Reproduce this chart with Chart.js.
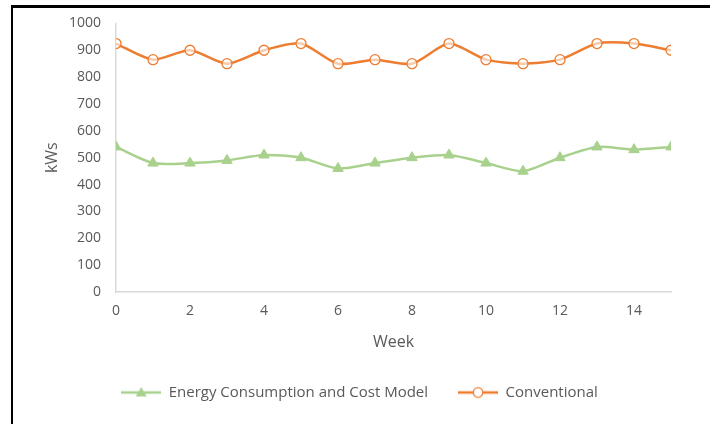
<!DOCTYPE html>
<html>
<head>
<meta charset="utf-8">
<script src="https://cdn.jsdelivr.net/npm/chart.js@4"></script>
<style>
  html, body { margin: 0; padding: 0; background: #fff; }
  #wrap { position: relative; width: 710px; height: 424px; overflow: hidden; }
  #frame { position: absolute; left: 11px; top: 5px; width: 800px; height: 500px;
           border-top: 3px solid #000; border-left: 2px solid #000; pointer-events: none; }
  canvas { position: absolute; left: 0; top: 0; }
</style>
</head>
<body>
<div id="wrap">
  <canvas id="c" width="710" height="424"></canvas>
  <div id="frame"></div>
</div>
<script>
const weeks = [0, 1, 2, 3, 4, 5, 6, 7, 8, 9, 10, 11, 12, 13, 14, 15];
const eccModel = [540, 480, 480, 490, 510, 500, 460, 480, 500, 510, 480, 450, 500, 540, 530, 540];
const conventional = [925, 865, 900, 850, 900, 925, 850, 865, 850, 925, 865, 850, 865, 925, 925, 900];
const seriesNames = ['Energy Consumption and Cost Model', 'Conventional'];

const GREEN = '#a9d18e';
const ORANGE = '#ed7d31';
const TEXT = '#595959';
const FONT = "'Open Sans', sans-serif";

function legendIcon(color, marker) {
  const cv = document.createElement('canvas');
  cv.width = 40; cv.height = 14;
  const ctx = cv.getContext('2d');
  ctx.strokeStyle = color; ctx.lineWidth = 2.5;
  ctx.beginPath(); ctx.moveTo(0, 7); ctx.lineTo(40, 7); ctx.stroke();
  if (marker === 'triangle') {
    ctx.fillStyle = color;
    ctx.beginPath(); ctx.moveTo(20, 1.5); ctx.lineTo(25.5, 11); ctx.lineTo(14.5, 11); ctx.closePath(); ctx.fill();
  } else {
    ctx.fillStyle = '#fff';
    ctx.lineWidth = 1.3;
    ctx.beginPath(); ctx.arc(20, 7, 4.8, 0, Math.PI * 2); ctx.fill(); ctx.stroke();
  }
  return cv;
}

const toPts = arr => weeks.map((w, i) => ({ x: w, y: arr[i] }));

const shiftLegend = {
  id: 'shiftLegend',
  afterLayout(chart) {
    const lg = chart.legend;
    if (lg) { lg.left += 24; lg.right += 24; }
  }
};

new Chart(document.getElementById('c'), {
  type: 'line',
  plugins: [shiftLegend],
  data: {
    datasets: [
      {
        label: seriesNames[0],
        data: toPts(eccModel),
        borderColor: GREEN,
        backgroundColor: GREEN,
        borderWidth: 2.5,
        tension: 0.25,
        pointStyle: 'triangle',
        pointRadius: 6,
        pointBorderWidth: 1,
        pointBackgroundColor: GREEN,
        pointBorderColor: GREEN,
        legendIcon: legendIcon(GREEN, 'triangle')
      },
      {
        label: seriesNames[1],
        data: toPts(conventional),
        borderColor: ORANGE,
        backgroundColor: ORANGE,
        borderWidth: 2.5,
        tension: 0.25,
        pointStyle: 'circle',
        pointRadius: 5,
        pointBorderWidth: 1.3,
        pointBackgroundColor: 'rgba(255,255,255,0.6)',
        pointBorderColor: ORANGE,
        legendIcon: legendIcon(ORANGE, 'circle')
      }
    ]
  },
  options: {
    responsive: false,
    animation: false,
    layout: { padding: { left: 0, right: 39, top: 20, bottom: 14 } },
    plugins: {
      tooltip: { enabled: false },
      legend: {
        position: 'bottom',
        labels: {
          usePointStyle: true,
          pointStyleWidth: 40,
          padding: 30,
          color: TEXT,
          font: { family: FONT, size: 15 },
          generateLabels: (chart) => chart.data.datasets.map((ds, i) => ({
            text: ds.label,
            pointStyle: ds.legendIcon,
            fillStyle: ds.borderColor,
            strokeStyle: ds.borderColor,
            fontColor: TEXT,
            lineWidth: 0,
            hidden: false,
            datasetIndex: i
          }))
        }
      }
    },
    scales: {
      x: {
        type: 'linear',
        min: 0,
        max: 15,
        grid: { display: false, drawTicks: false },
        border: { display: true, color: '#d9d9d9', width: 1.5 },
        ticks: { stepSize: 2, includeBounds: false, padding: 11, color: TEXT, font: { family: FONT, size: 14 } },
        title: { display: true, text: 'Week', color: TEXT, font: { family: FONT, size: 16 }, padding: { top: 0, bottom: 3 } },
        afterFit: s => { s.height = 63; }
      },
      y: {
        min: 0,
        max: 1000,
        grid: { display: false, drawTicks: false },
        border: { display: true, color: '#d9d9d9', width: 1.5 },
        ticks: { stepSize: 100, padding: 15, color: TEXT, font: { family: FONT, size: 14 }, callback: v => String(v) },
        title: { display: true, text: 'kWs', color: TEXT, font: { family: FONT, size: 16 }, padding: { top: 43, bottom: 0 } },
        afterFit: s => { s.width = 116; }
      }
    }
  }
});
</script>
</body>
</html>
